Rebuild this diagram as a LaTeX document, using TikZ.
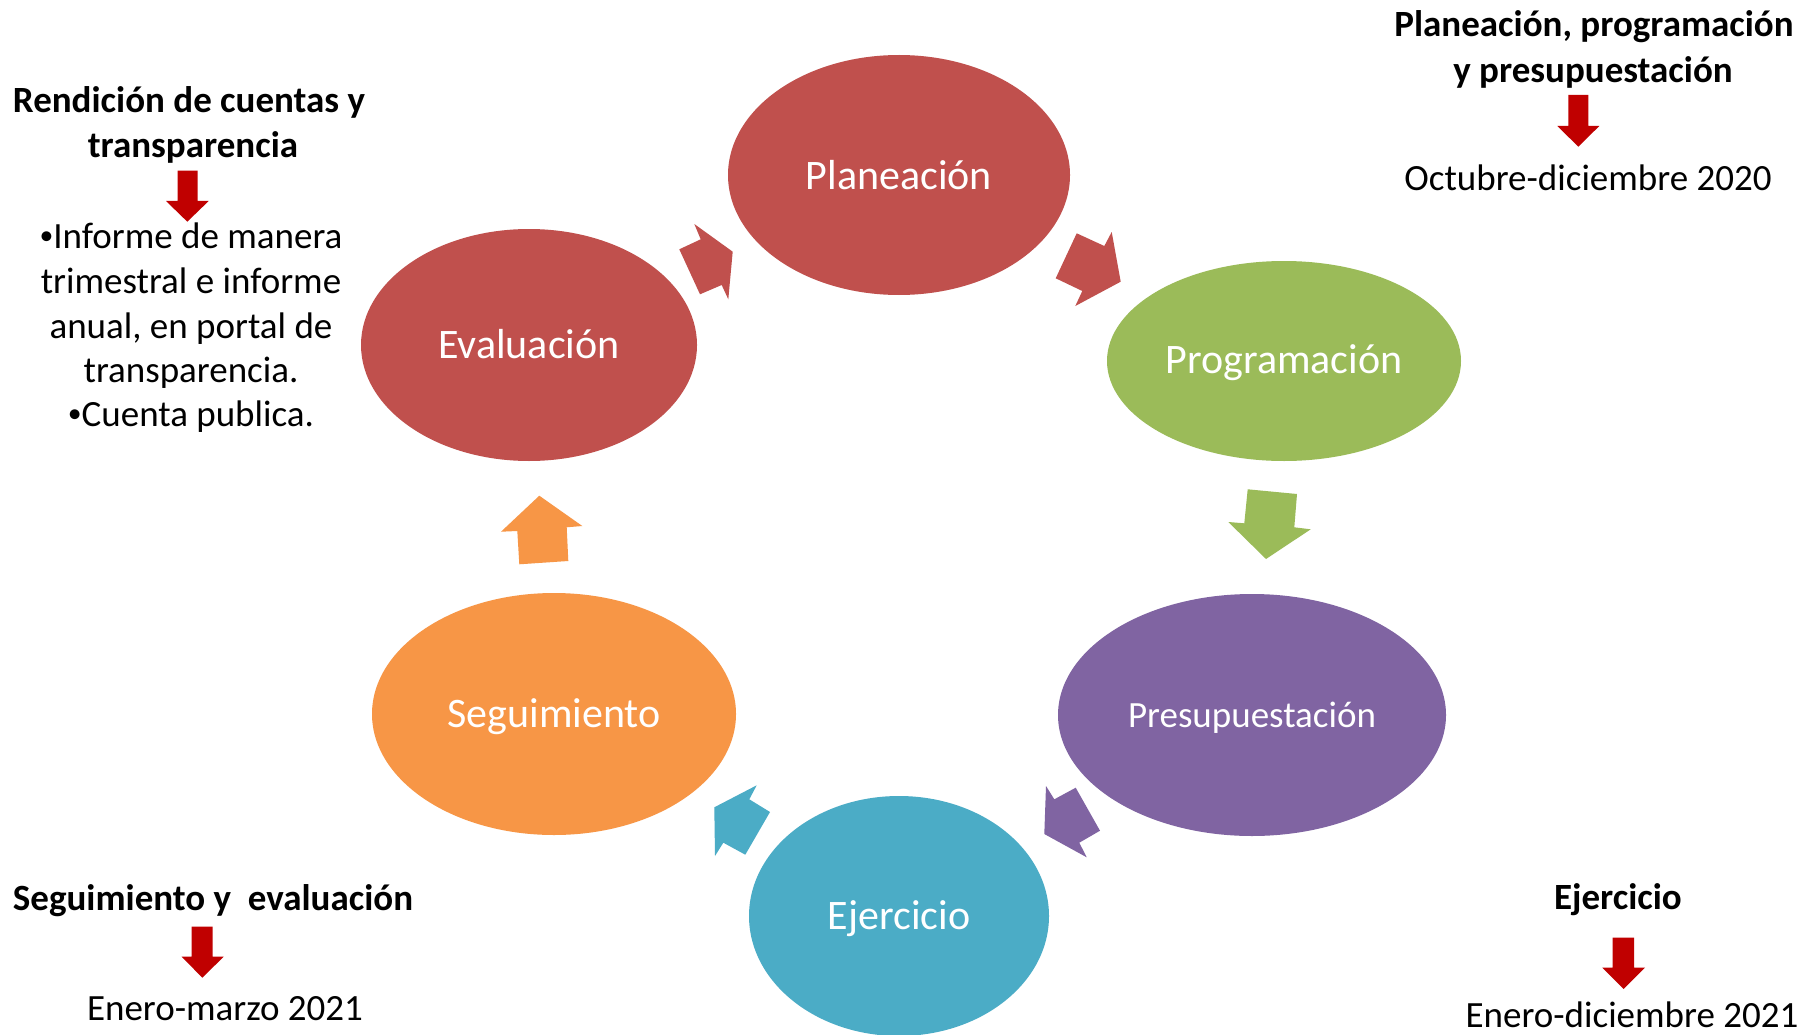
\documentclass[tikz,border=0pt]{standalone}
\usepackage{fontspec}
\setmainfont{Carlito}
\usetikzlibrary{shapes.geometric}
\definecolor{cred}{HTML}{C0504D}
\definecolor{cgreen}{HTML}{9BBB59}
\definecolor{cpurple}{HTML}{8064A2}
\definecolor{cblue}{HTML}{4BACC6}
\definecolor{corange}{HTML}{F79646}
\definecolor{darr}{HTML}{C00000}
\newcommand{\smallbul}{\raisebox{0.1em}{\scalebox{0.75}{•}}}
\tikzset{
  phase/.style={ellipse, draw=none, inner sep=0pt, text=white, font=\fontsize{42}{50}\selectfont},
  lbl/.style={inner sep=0pt, text=white, font=\fontsize{42}{50}\selectfont},
  txt/.style={anchor=base, inner sep=0pt, font=\fontsize{37}{45}\selectfont},
  btxt/.style={anchor=base, inner sep=0pt, font=\fontsize{37}{45}\selectfont\bfseries},
  darrow/.style={fill=darr, draw=none}
}
\begin{document}
\begin{tikzpicture}[x=1pt,y=-1pt]
\useasboundingbox (0,0) rectangle (1814,1035);
\fill[white] (0,0) rectangle (1814,1035);
% phases
\node[phase, fill=cred, minimum width=342, minimum height=240] (plan) at (899,175) {};
\node[phase, fill=cgreen, minimum width=354, minimum height=200] (prog) at (1284,361) {};
\node[phase, fill=cpurple, minimum width=388, minimum height=242] (pres) at (1252,715) {};
\node[phase, fill=cblue, minimum width=300, minimum height=240] (ejer) at (899,916) {};
\node[phase, fill=corange, minimum width=364, minimum height=242] (segu) at (554,714) {};
\node[phase, fill=cred, minimum width=336, minimum height=232] (eval) at (529,345) {};
\node[lbl] (planL) at ([yshift=0]plan.center) {Planeación};
\node[lbl] (progL) at ([yshift=-2]prog.center) {Programación};
\node[lbl, font=\fontsize{37}{45}\selectfont] (presL) at ([yshift=-3]pres.center) {Presupuestación};
\node[lbl] (ejerL) at ([yshift=-3]ejer.center) {Ejercicio};
\node[lbl] (seguL) at ([yshift=-3]segu.center) {Seguimiento};
\node[lbl] (evalL) at ([yshift=1]eval.center) {Evaluación};
% cycle block arrows
\fill[cred] (679.3,249.3) -- (700.7,239.3) -- (694.3,224) -- (732.7,251.7) -- (728.3,299.3) -- (721.7,285) -- (700,294.3) -- cycle;
\fill[cred] (1076.7,233.3) -- (1104.3,246) -- (1111.7,232) -- (1120.7,281.7) -- (1075.3,306) -- (1082.3,291) -- (1055.7,278.3) -- cycle;
\fill[cgreen] (1247.7,489.3) -- (1297,494) -- (1294.3,527.3) -- (1310.7,529.3) -- (1266,559) -- (1228.3,522) -- (1244.3,523.3) -- cycle;
\fill[cpurple] (1046,786) -- (1054.3,799.3) -- (1075.7,787.7) -- (1100,830.7) -- (1079.3,842.7) -- (1086.7,857.3) -- (1044.3,834) -- cycle;
\fill[cblue] (756.7,785.3) -- (749.3,799.3) -- (770,812) -- (745.3,854.7) -- (723.3,842.7) -- (715,856) -- (714.3,807.3) -- cycle;
\fill[corange] (539.3,495.7) -- (582.3,526) -- (566.7,527.3) -- (568.3,561) -- (519.3,564.3) -- (517.3,531) -- (501,531.7) -- cycle;
% top right
\node[btxt] (trA) at (1594,37) {Planeación, programación};
\node[btxt] (trB) at (1593,83) {y presupuestación};
\node[txt] (trC) at (1588,190) {Octubre-diciembre 2020};
\fill[darrow] (1568.3,95) -- (1588.3,95) -- (1588.3,126) -- (1599.3,126) -- (1578.3,146.7) -- (1557.3,126) -- (1568.3,126) -- cycle;
% top left
\node[btxt] (tlA) at (189,113) {Rendición de cuentas y};
\node[btxt] (tlB) at (193,158) {transparencia};
\fill[darrow] (177.7,170.7) -- (197.7,170.7) -- (197.7,201) -- (208.7,201) -- (187.3,221.7) -- (166,201) -- (177.7,201) -- cycle;
\node[txt] (tl1) at (191,248) {\smallbul Informe de manera};
\node[txt] (tl2) at (191,293) {trimestral e informe};
\node[txt] (tl3) at (191,338) {anual, en portal de};
\node[txt] (tl4) at (191,382) {transparencia.};
\node[txt] (tl5) at (191,426) {\smallbul Cuenta publica.};
% bottom left
\node[btxt] (blA) at (213,910) {Seguimiento y \ evaluación};
\fill[darrow] (191.7,926.7) -- (212.7,926.7) -- (212.7,956.7) -- (223.7,956.7) -- (202.3,977.7) -- (181.7,956.7) -- (191.7,956.7) -- cycle;
\node[txt] (blB) at (225,1020) {Enero-marzo 2021};
% bottom right
\node[btxt] (brA) at (1618,909) {Ejercicio};
\fill[darrow] (1612.7,937.7) -- (1634,937.7) -- (1634,967.7) -- (1645,967.7) -- (1623.7,989) -- (1602.3,967.7) -- (1612.7,967.7) -- cycle;
\node[txt] (brB) at (1632,1027) {Enero-diciembre 2021};
\end{tikzpicture}
\end{document}
